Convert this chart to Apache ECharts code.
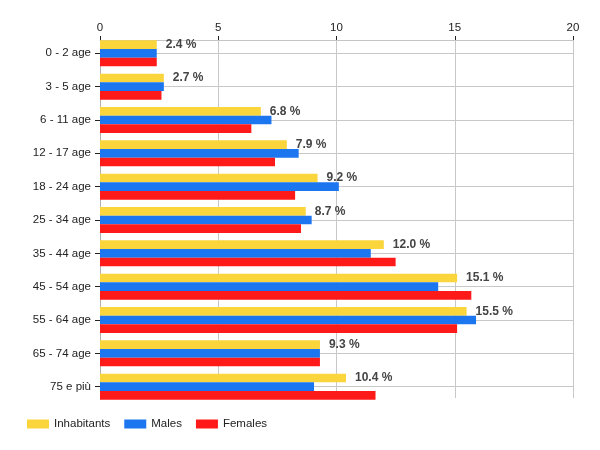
<!DOCTYPE html>
<html>
<head>
<meta charset="utf-8">
<script src="https://cdn.jsdelivr.net/npm/echarts@6/dist/echarts.min.js"></script>
<style>html,body{margin:0;padding:0;background:#fff}#c{width:600px;height:450px}</style>
</head>
<body>
<div id="c"></div>
<script>
const categories = ['0 - 2 age','3 - 5 age','6 - 11 age','12 - 17 age','18 - 24 age','25 - 34 age','35 - 44 age','45 - 54 age','55 - 64 age','65 - 74 age','75 e più'];
const inhabitants = [2.4, 2.7, 6.8, 7.9, 9.2, 8.7, 12.0, 15.1, 15.5, 9.3, 10.4];
const males = [2.4, 2.7, 7.25, 8.4, 10.1, 8.95, 11.45, 14.3, 15.9, 9.3, 9.05];
const females = [2.4, 2.6, 6.4, 7.4, 8.25, 8.5, 12.5, 15.7, 15.1, 9.3, 11.65];
const xTicks = {min: 0, max: 20, interval: 5};

const FONT = 'Liberation Sans, Arial, sans-serif';
const chart = echarts.init(document.getElementById('c'), null, {renderer: 'canvas'});
const L = 100, R = 27;
const option = {
  animation: false,
  textStyle: {fontFamily: FONT},
  grid: [
    {left: L, right: R, top: 40, bottom: 52},
    {left: L, right: R, top: 53.3, bottom: 63.3},
    {left: L, right: R, top: 36.7, bottom: 46.7}
  ],
  xAxis: [
    {gridIndex: 0, type: 'value', position: 'top', min: xTicks.min, max: xTicks.max, interval: xTicks.interval,
     axisLine: {show: true, lineStyle: {color: '#c4c4c4'}},
     axisTick: {show: true, length: 4, lineStyle: {color: '#222'}},
     axisLabel: {margin: 6, color: '#222', fontSize: 11.5, fontFamily: FONT},
     splitLine: {show: true, lineStyle: {color: '#c8c8c8'}}},
    {gridIndex: 1, type: 'value', min: 0, max: 20, show: false},
    {gridIndex: 2, type: 'value', min: 0, max: 20, show: false}
  ],
  yAxis: [
    {gridIndex: 0, type: 'category', data: categories, inverse: true,
     axisLine: {show: true, lineStyle: {color: '#b0b0b0'}},
     axisTick: {show: false}, axisLabel: {show: false}, splitLine: {show: false}},
    {gridIndex: 1, type: 'category', data: categories, inverse: true, boundaryGap: false,
     axisLine: {show: false},
     axisTick: {show: true, length: 5, interval: 0, lineStyle: {color: '#222'}},
     axisLabel: {show: true, interval: 0, margin: 9, color: '#222', fontSize: 11.5, fontFamily: FONT},
     splitLine: {show: true, interval: 0, lineStyle: {color: '#c8c8c8'}}},
    {gridIndex: 2, type: 'category', data: categories, inverse: true, show: false}
  ],
  legend: {
    left: 27, top: 418, padding: 0, itemWidth: 22, itemHeight: 9, itemGap: 14, icon: 'rect',
    textStyle: {color: '#222', fontSize: 11.5, fontFamily: FONT},
    data: ['Inhabitants', 'Males', 'Females']
  },
  series: [
    {name: 'Inhabitants', type: 'bar', xAxisIndex: 2, yAxisIndex: 2, data: inhabitants,
     itemStyle: {color: '#FAD53C'}, barGap: 0, barCategoryGap: '22%',
     label: {show: true, position: 'right', distance: 9, color: '#444', fontWeight: 'bold', fontSize: 12, fontFamily: FONT,
       formatter: p => p.value.toFixed(1) + ' %'}},
    {name: 'Males', type: 'bar', xAxisIndex: 2, yAxisIndex: 2, data: males,
     itemStyle: {color: '#1B76F0'}, barGap: 0, barCategoryGap: '22%'},
    {name: 'Females', type: 'bar', xAxisIndex: 2, yAxisIndex: 2, data: females,
     itemStyle: {color: '#FF1A1A'}, barGap: 0, barCategoryGap: '22%'}
  ]
};
chart.setOption(option);
</script>
</body>
</html>
